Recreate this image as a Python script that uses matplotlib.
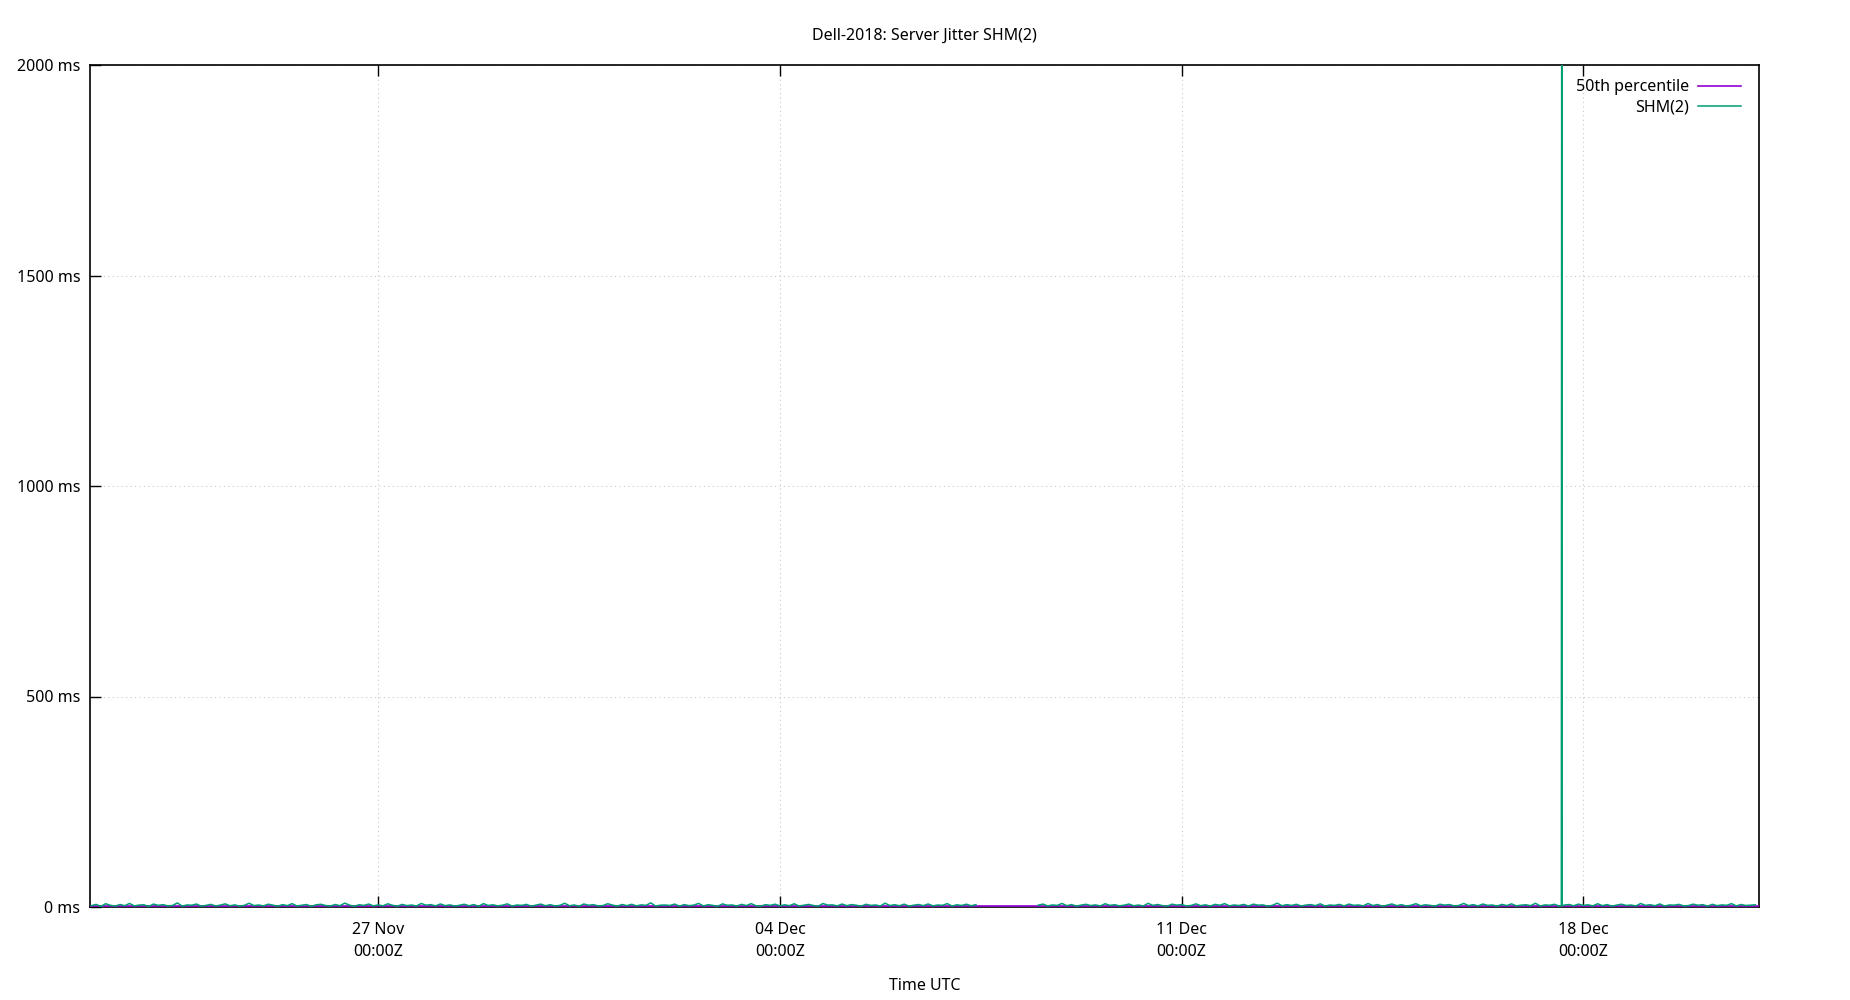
import numpy as np
import pandas as pd
import matplotlib
matplotlib.use("Agg")
import matplotlib.pyplot as plt
import matplotlib.dates as mdates

plt.rcParams['font.family'] = ['Noto Sans', 'DejaVu Sans']
plt.rcParams['font.size'] = 11.5

# SHM(2) jitter, 2-hourly samples from 22 Nov 00:00Z (ms), nan = no data
start = "2018-11-22 00:00"
nan = np.nan
jitter_ms = [
    3.2, 6.1, 1.4, 7.8, 4.0, 2.2, 5.9, 3.1, 8.4, 2.5, 4.6, 5.2, 1.3, 6.9, 3.9, 5.5, 2.7, 3.6, 9.6, 2.1, 4.8, 4.2, 7.0, 1.8,
    3.8, 6.2, 2.4, 4.5, 7.4, 2.9, 5.0, 1.9, 3.9, 8.8, 3.4, 4.7, 2.6, 6.6, 4.3, 2.0, 5.6, 3.2, 7.9, 2.5, 4.1, 5.8, 1.6, 5.1,
    6.4, 3.5, 2.2, 5.9, 3.0, 9.2, 4.4, 1.7, 5.3, 3.8, 7.0, 2.7, 4.9, 2.8, 7.6, 4.0, 1.9, 6.1, 3.3, 4.6, 2.4, 8.3, 4.3, 5.6,
    2.6, 7.2, 3.2, 5.0, 2.1, 4.1, 6.5, 2.9, 5.7, 1.6, 8.0, 3.6, 5.2, 2.7, 4.3, 7.4, 2.2, 4.7, 3.8, 6.2, 1.9, 4.5, 6.8, 3.0,
    5.4, 2.4, 3.9, 8.9, 2.9, 4.8, 1.8, 7.1, 4.1, 5.6, 2.6, 3.4, 7.7, 4.5, 2.1, 5.9, 3.2, 6.4, 2.7, 5.0, 3.9, 9.7, 2.3, 4.3,
    4.7, 3.6, 6.9, 1.9, 5.7, 3.1, 4.5, 8.5, 2.6, 5.4, 3.8, 1.6, 7.4, 4.1, 4.8, 2.4, 6.2, 3.4, 7.9, 2.9, 2.1, 5.5, 3.9, 6.6,
    2.7, 5.2, 3.2, 7.6, 2.3, 4.3, 6.1, 3.6, 1.8, 8.2, 4.5, 5.0, 2.6, 7.0, 3.1, 5.7, 4.1, 2.0, 6.4, 3.8, 4.8, 2.4, 9.0, 3.4,
    5.4, 2.9, 6.7, 2.1, 4.3, 5.9, 3.2, 7.2, 2.7, 4.7, 3.9, 8.0, 2.3, 5.2, 3.6, 6.6, 2.9, 5.6, nan, nan, nan, nan, nan, nan,
    nan, nan, nan, nan, nan, nan, 4.1, 6.9, 2.6, 4.8, 3.8, 8.4, 3.1, 5.7, 2.0, 4.5, 6.4, 3.4, 5.0, 2.4, 7.7, 3.9, 5.4, 2.7,
    4.3, 7.0, 2.9, 4.7, 2.3, 8.7, 3.8, 5.9, 3.2, 1.8, 6.6, 4.5, 5.6, 2.6, 3.6, 7.4, 3.1, 5.2, 2.1, 6.2, 4.1, 8.0, 2.7, 4.8,
    3.4, 6.1, 2.3, 6.7, 4.3, 5.0, 2.0, 3.9, 9.1, 2.9, 5.6, 3.6, 6.4, 2.4, 4.5, 5.7, 3.2, 7.5, 2.1, 4.7, 3.8, 6.2, 2.6, 6.9,
    3.9, 4.8, 2.7, 8.2, 3.4, 5.9, 1.8, 4.3, 7.2, 3.1, 5.4, 2.3, 4.1, 7.8, 2.9, 5.2, 3.8, 2.0, 6.6, 4.5, 5.7, 2.6, 3.6, 8.5,
    3.2, 5.6, 2.4, 7.0, 3.9, 4.7, 2.1, 6.1, 3.4, 7.4, 2.7, 4.3, 5.4, 3.1, 8.8, 2.3, 5.0, 4.1, 6.4, 2.0, 4.5, 5.9, 2.9, 6.9,
    3.8, 5.2, 2.6, 7.7, 3.2, 5.7, 2.1, 4.5, 6.6, 3.6, 4.7, 2.4, 8.3, 3.9, 5.4, 2.9, 7.2, 2.3, 4.8, 4.3, 6.2, 2.7, 3.4, 6.7,
    4.1, 5.6, 2.0, 6.4, 3.1, 5.0, 3.9, 8.0, 2.6, 5.9, 3.6, 4.5, 5.2,
]
# the one big excursion, with the samples right around it
spike_time = ["2018-12-17 14:50", "2018-12-17 15:00", "2018-12-17 15:10"]
spike_ms = [3.4, 2400.0, 2.9]

median_ms = 1.5

times = pd.date_range(start, periods=len(jitter_ms), freq="2h")
s = pd.Series(jitter_ms, index=times)
s = pd.concat([s, pd.Series(spike_ms, index=pd.to_datetime(spike_time))]).sort_index()

fig = plt.figure(figsize=(18.5, 10), dpi=100)
ax = fig.add_axes([0.0486, 0.093, 0.9022, 0.842])

ax.axhline(median_ms, color="#9400d3", lw=1.2, label="50th percentile", zorder=3)
ax.plot(s.index, s.values, color="#009e73", lw=1.1, label="SHM(2)", zorder=4)

ax.set_xlim(pd.Timestamp("2018-11-21 23:25"), pd.Timestamp("2018-12-21 01:30"))
ax.set_ylim(0, 2000)
ax.set_yticks([0, 500, 1000, 1500, 2000])
ax.set_yticklabels(["%d ms" % v for v in [0, 500, 1000, 1500, 2000]])

ax.xaxis.set_major_locator(mdates.DayLocator(bymonthday=[4, 11, 18, 27]))
ax.xaxis.set_major_formatter(mdates.DateFormatter("%d %b\n%H:%MZ"))
for lbl in ax.get_xticklabels():
    lbl.set_linespacing(1.45)

ax.tick_params(direction="in", length=8, width=1, top=True, right=False)
ax.tick_params(axis="x", pad=11)
ax.tick_params(axis="y", pad=7)
for sp in ax.spines.values():
    sp.set_linewidth(1.2)

ax.grid(True, color="#c8c8c8", lw=0.8, linestyle=(0, (1, 3)))

ax.set_title("Dell-2018: Server Jitter SHM(2)", pad=18, fontsize=11.5)
ax.set_xlabel("Time UTC", labelpad=13)

ax.legend(loc="upper right", bbox_to_anchor=(1.0, 1.005), frameon=False,
          markerfirst=False, handlelength=2.65, handletextpad=0.6,
          borderaxespad=0.75, labelspacing=0.3, fontsize=11.5)

fig.savefig("out.png", dpi=100)
